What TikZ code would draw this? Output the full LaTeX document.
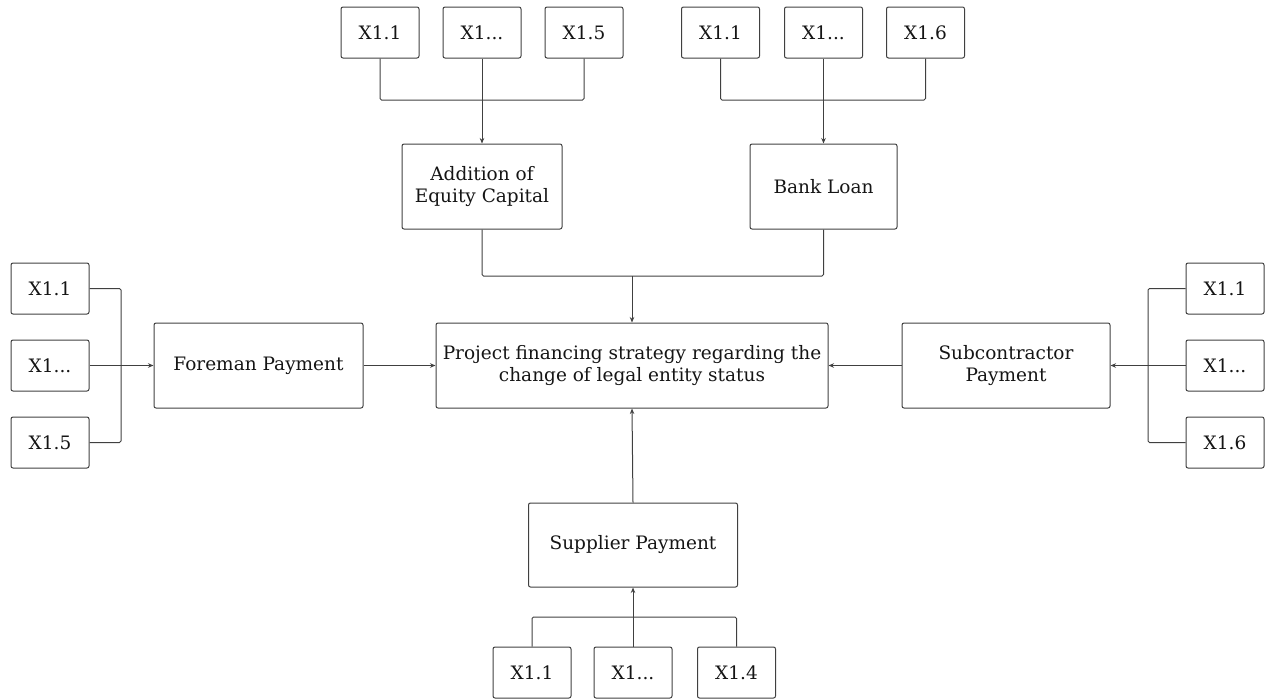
\documentclass[tikz,border=0pt]{standalone}
\usepackage{fontspec}
\setmainfont{DejaVu Serif}
\usepackage{xcolor}
\usetikzlibrary{positioning,calc,arrows.meta}
\definecolor{linegray}{HTML}{404040}
\definecolor{txt}{HTML}{151515}

\begin{document}
\begin{tikzpicture}[x=1pt,y=-1pt,
    box/.style={draw=linegray, line width=1pt, rounded corners=2pt, align=center,
        text=txt, font=\fontsize{18.5}{22.5}\selectfont, inner sep=0pt},
    xbox/.style={box, minimum width=78pt, minimum height=51pt},
    wire/.style={draw=linegray, line width=1pt, rounded corners=1.5pt},
    feed/.style={wire, -{Stealth[length=5.5pt,width=4.5pt]}}]
    \useasboundingbox (0,0) rectangle (1265,699);

    % main boxes
    \node[box, minimum width=392pt, minimum height=85pt] (goal) at (632,365.5)
        {Project financing strategy regarding the\\change of legal entity status};
    \node[box, minimum width=160pt, minimum height=85pt] (equity) at (482,186.5)
        {Addition of\\Equity Capital};
    \node[box, minimum width=147pt, minimum height=85pt] (loan) at (823.5,186.5) {Bank Loan};
    \node[box, minimum width=209pt, minimum height=85pt] (foreman) at (258.5,365.5) {Foreman Payment};
    \node[box, minimum width=208pt, minimum height=85pt] (subcon) at (1006,365.5)
        {Subcontractor\\Payment};
    \node[box, minimum width=209pt, minimum height=84pt] (supplier) at (633,545) {Supplier Payment};

    % indicator boxes
    \node[xbox] (eq1) at (380,32.5) {X1.1};
    \node[xbox] (eq2) at (482,32.5) {X1...};
    \node[xbox] (eq3) at (584,32.5) {X1.5};
    \node[xbox] (bl1) at (720.5,32.5) {X1.1};
    \node[xbox] (bl2) at (823.5,32.5) {X1...};
    \node[xbox] (bl3) at (925.5,32.5) {X1.6};
    \node[xbox] (fp1) at (50,288.5) {X1.1};
    \node[xbox] (fp2) at (50,365.5) {X1...};
    \node[xbox] (fp3) at (50,442.5) {X1.5};
    \node[xbox] (sc1) at (1225,288.5) {X1.1};
    \node[xbox] (sc2) at (1225,365.5) {X1...};
    \node[xbox] (sc3) at (1225,442.5) {X1.6};
    \node[xbox] (sp1) at (532,672.5) {X1.1};
    \node[xbox] (sp2) at (633,672.5) {X1...};
    \node[xbox] (sp3) at (736.5,672.5) {X1.4};

    % junctions
    \coordinate (jeq) at (482,100);
    \coordinate (jbl) at (823.5,100);
    \coordinate (jfp) at (121,365.5);
    \coordinate (jsc) at (1148,365.5);
    \coordinate (jsp) at (633,617);
    \coordinate (jtop) at (632,276);

    % top left group
    \draw[wire] (eq1.south) |- (jeq) -| (eq3.south);
    \draw[feed] (eq2.south) -- (equity.north);
    % top right group
    \draw[wire] (bl1.south) |- (jbl) -| (bl3.south);
    \draw[feed] (bl2.south) -- (loan.north);
    % left group
    \draw[wire] (fp1.east) -| (jfp) |- (fp3.east);
    \draw[feed] (fp2.east) -- (foreman.west);
    % right group
    \draw[wire] (sc1.west) -| (jsc) |- (sc3.west);
    \draw[feed] (sc2.west) -- (subcon.east);
    % bottom group
    \draw[wire] (sp1.north) |- (jsp) -| (sp3.north);
    \draw[feed] (sp2.north) -- (supplier.south);

    % into the goal
    \draw[wire] (equity.south) |- (jtop) -| (loan.south);
    \draw[feed] (jtop) -- (goal.north);
    \draw[feed] (foreman.east) -- (goal.west);
    \draw[feed] (subcon.west) -- (goal.east);
    \draw[feed] (supplier.north) -- (goal.south);
\end{tikzpicture}
\end{document}
